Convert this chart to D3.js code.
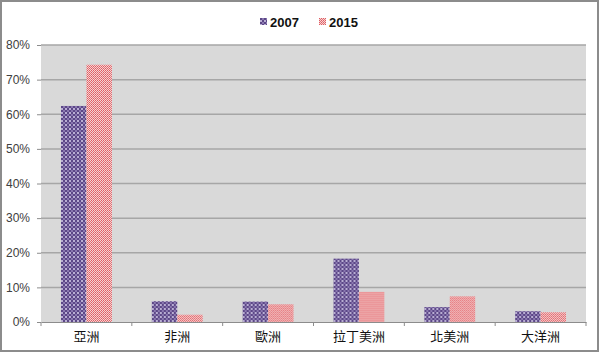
<!DOCTYPE html>
<html>
<head>
<meta charset="utf-8">
<script src="https://cdn.jsdelivr.net/npm/d3@7"></script>
<style>
  body { margin: 0; background: #fff; }
  svg { display: block; }
</style>
</head>
<body>
<svg id="chart" width="600" height="354"></svg>
<script>
// data
var regions = ["亞洲", "非洲", "歐洲", "拉丁美洲", "北美洲", "大洋洲"];
var years = ["2007", "2015"];
var share2007 = [62.4, 6.0, 5.9, 18.3, 4.3, 3.1];
var share2015 = [74.3, 2.1, 5.1, 8.7, 7.4, 2.8];
var yTicks = [0, 10, 20, 30, 40, 50, 60, 70, 80];

var values = { "2007": share2007, "2015": share2015 };

var svg = d3.select("#chart"),
    W = 600, H = 354,
    plotLeft = 41, plotRight = 586, plotTop = 45, plotBottom = 322;

// patterns
var defs = svg.append("defs");
var p1 = defs.append("pattern").attr("id", "pat2007")
  .attr("width", 4).attr("height", 4).attr("patternUnits", "userSpaceOnUse");
p1.append("rect").attr("width", 4).attr("height", 4).attr("fill", "#5c4787");
p1.append("rect").attr("x", 0).attr("y", 0).attr("width", 2).attr("height", 2).attr("fill", "#b9aed3");
p1.append("rect").attr("x", 2).attr("y", 2).attr("width", 2).attr("height", 2).attr("fill", "#8a78b0");

var p2 = defs.append("pattern").attr("id", "pat2015")
  .attr("width", 2).attr("height", 2).attr("patternUnits", "userSpaceOnUse");
p2.append("rect").attr("width", 2).attr("height", 2).attr("fill", "#f6d2d2");
p2.append("rect").attr("x", 0).attr("y", 0).attr("width", 1).attr("height", 1).attr("fill", "#e05c62");
p2.append("rect").attr("x", 1).attr("y", 1).attr("width", 1).attr("height", 1).attr("fill", "#e27378");

var fills = { "2007": "url(#pat2007)", "2015": "url(#pat2015)" };

// outer frame
svg.append("rect")
  .attr("x", 1).attr("y", 1).attr("width", W - 3).attr("height", H - 4)
  .attr("fill", "#fff").attr("stroke", "#8c8c8c").attr("stroke-width", 2);

var x0 = d3.scaleBand().domain(regions).range([plotLeft, plotRight]).padding(0);
var x1 = d3.scaleBand().domain(years)
  .range([x0.bandwidth() * 0.22, x0.bandwidth() * 0.78]);
var y = d3.scaleLinear().domain([0, 80]).range([plotBottom, plotTop]);

// plot area
svg.append("rect")
  .attr("x", plotLeft).attr("y", plotTop)
  .attr("width", plotRight - plotLeft).attr("height", plotBottom - plotTop)
  .attr("fill", "#d9d9d9");

// gridlines + y axis
var yAxis = d3.axisLeft(y).tickValues(yTicks).tickSize(4).tickPadding(7)
  .tickFormat(function(d) { return d + "%"; });
var gy = svg.append("g").attr("transform", "translate(" + plotLeft + ",0)").call(yAxis);
gy.select(".domain").remove();
gy.selectAll(".tick line").attr("stroke", "#8c8c8c");
gy.selectAll(".tick text")
  .attr("font-family", "'Liberation Sans', Arial, sans-serif")
  .attr("font-size", 12).attr("fill", "#404040");

svg.append("g").selectAll("line")
  .data(yTicks.filter(function(d) { return d > 0; }))
  .enter().append("line")
  .attr("x1", plotLeft).attr("x2", plotRight)
  .attr("y1", function(d) { return y(d); }).attr("y2", function(d) { return y(d); })
  .attr("stroke", "#a6a6a6").attr("stroke-width", 1.5);

// bars
var groups = svg.append("g").selectAll("g")
  .data(regions).enter().append("g")
  .attr("transform", function(d) { return "translate(" + x0(d) + ",0)"; });
groups.selectAll("rect")
  .data(function(d, i) { return years.map(function(yr) { return { yr: yr, v: values[yr][i] }; }); })
  .enter().append("rect")
  .attr("x", function(d) { return x1(d.yr); })
  .attr("width", x1.bandwidth())
  .attr("y", function(d) { return y(d.v); })
  .attr("height", function(d) { return y(0) - y(d.v); })
  .attr("fill", function(d) { return fills[d.yr]; });

// x axis
var xAxis = d3.axisBottom(x0).tickSize(0).tickPadding(10);
var gx = svg.append("g").attr("transform", "translate(0," + plotBottom + ")").call(xAxis);
gx.select(".domain").attr("stroke", "#8c8c8c");
gx.selectAll(".tick text")
  .attr("font-family", "'Noto Sans CJK TC', sans-serif")
  .attr("font-size", 13).attr("fill", "#111");
gx.selectAll(".sep")
  .data(d3.range(regions.length + 1)).enter().append("line")
  .attr("class", "sep")
  .attr("x1", function(i) { return plotLeft + i * x0.step(); })
  .attr("x2", function(i) { return plotLeft + i * x0.step(); })
  .attr("y1", 0).attr("y2", 4)
  .attr("stroke", "#8c8c8c");

// legend
var legend = svg.append("g");
var legendX = [260, 319];
years.forEach(function(yr, i) {
  var g = legend.append("g").attr("transform", "translate(" + legendX[i] + ",0)");
  g.append("rect").attr("x", 0).attr("y", 18).attr("width", 7).attr("height", 7)
    .attr("fill", fills[yr]);
  g.append("text").attr("x", 10).attr("y", 27)
    .attr("font-family", "'Liberation Sans', Arial, sans-serif")
    .attr("font-weight", "bold").attr("font-size", 13).attr("fill", "#111")
    .text(yr);
});
</script>
</body>
</html>
